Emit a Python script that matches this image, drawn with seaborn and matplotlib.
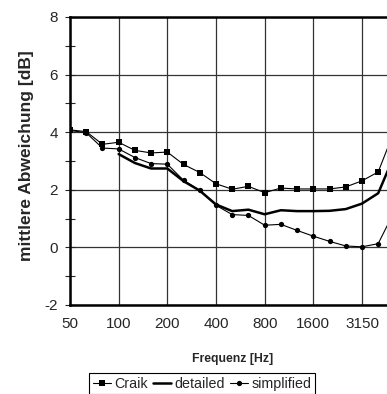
import seaborn as sns
import pandas as pd
import numpy as np
import matplotlib.pyplot as plt

freqs = ['50', '63', '80', '100', '125', '160', '200', '250', '315', '400', '500',
         '630', '800', '1000', '1250', '1600', '2000', '2500', '3150', '4000', '5000']
craik = [4.08, 4.02, 3.58, 3.65, 3.37, 3.28, 3.31, 2.88, 2.60, 2.21, 2.02,
         2.12, 1.90, 2.06, 2.03, 2.03, 2.03, 2.10, 2.31, 2.62, 4.05]
detailed = [np.nan, np.nan, np.nan, 3.24, 2.93, 2.74, 2.74, 2.30, 1.97, 1.49, 1.26,
            1.31, 1.15, 1.29, 1.26, 1.26, 1.27, 1.33, 1.52, 1.88, 3.2]
simplified = [4.06, 3.98, 3.45, 3.42, 3.12, 2.91, 2.89, 2.33, 1.98, 1.46, 1.14,
              1.11, 0.77, 0.80, 0.59, 0.39, 0.21, 0.05, 0.02, 0.13, 1.25]
tick_freqs = ['50', '100', '200', '400', '800', '1600', '3150']

df = pd.DataFrame({'pos': range(len(freqs)), 'freq': freqs,
                   'Craik': craik, 'detailed': detailed, 'simplified': simplified})

sns.set_style('white')
plt.rcParams['font.family'] = ['Liberation Sans', 'DejaVu Sans']
plt.rcParams['axes.unicode_minus'] = False

fig = plt.figure(figsize=(3.87, 3.94), dpi=100)
ax = fig.add_axes([70 / 387, 89 / 394, 324.4 / 387, 288 / 394])

sns.lineplot(x='pos', y='Craik', data=df, ax=ax, color='black', lw=0.8,
             marker='s', markersize=4.6, markeredgewidth=0, label='Craik')
sns.lineplot(x='pos', y='detailed', data=df.dropna(), ax=ax, color='black', lw=1.8,
             label='detailed')
sns.lineplot(x='pos', y='simplified', data=df, ax=ax, color='black', lw=0.8,
             marker='o', markersize=3.8, markeredgewidth=0, label='simplified')

ax.set_xlim(0, len(freqs) - 1)
ax.set_ylim(-2, 8)
ax.set_xticks([freqs.index(f) for f in tick_freqs])
ax.set_xticklabels(tick_freqs)
ax.set_yticks(range(-2, 9, 2))
ax.set_yticks(range(-1, 8, 2), minor=True)
ax.tick_params(axis='x', length=0, pad=9, labelsize=11)
ax.tick_params(axis='y', which='both', direction='inout', length=7, width=0.8,
               pad=5, labelsize=11, left=True)
ax.grid(True, color='#333333', lw=0.9)
ax.set_axisbelow(True)

for side in ['left', 'bottom', 'top']:
    ax.spines[side].set_color('black')
    ax.spines[side].set_linewidth(1.8)
ax.spines['right'].set_visible(False)

ax.set_ylabel('mittlere Abweichung [dB]', fontsize=12.5, fontweight='bold')
ax.yaxis.set_label_coords(-0.112, 0.517)
ax.set_xlabel('Frequenz [Hz]', fontsize=8.8, fontweight='bold')
ax.xaxis.set_label_coords(0.5, -0.165)

ax.legend_.remove()
handles, labels = ax.get_legend_handles_labels()
leg = fig.legend(handles, labels, ncol=3, loc='upper left',
                 bbox_to_anchor=(89 / 387, 1 - 373 / 394), fontsize=10.3,
                 frameon=True, fancybox=False, framealpha=1, edgecolor='black',
                 handlelength=1.3, handletextpad=0.2, columnspacing=0.35,
                 borderpad=0.25, borderaxespad=0)
leg.get_frame().set_linewidth(0.8)

fig.savefig('out.png', dpi=100)
